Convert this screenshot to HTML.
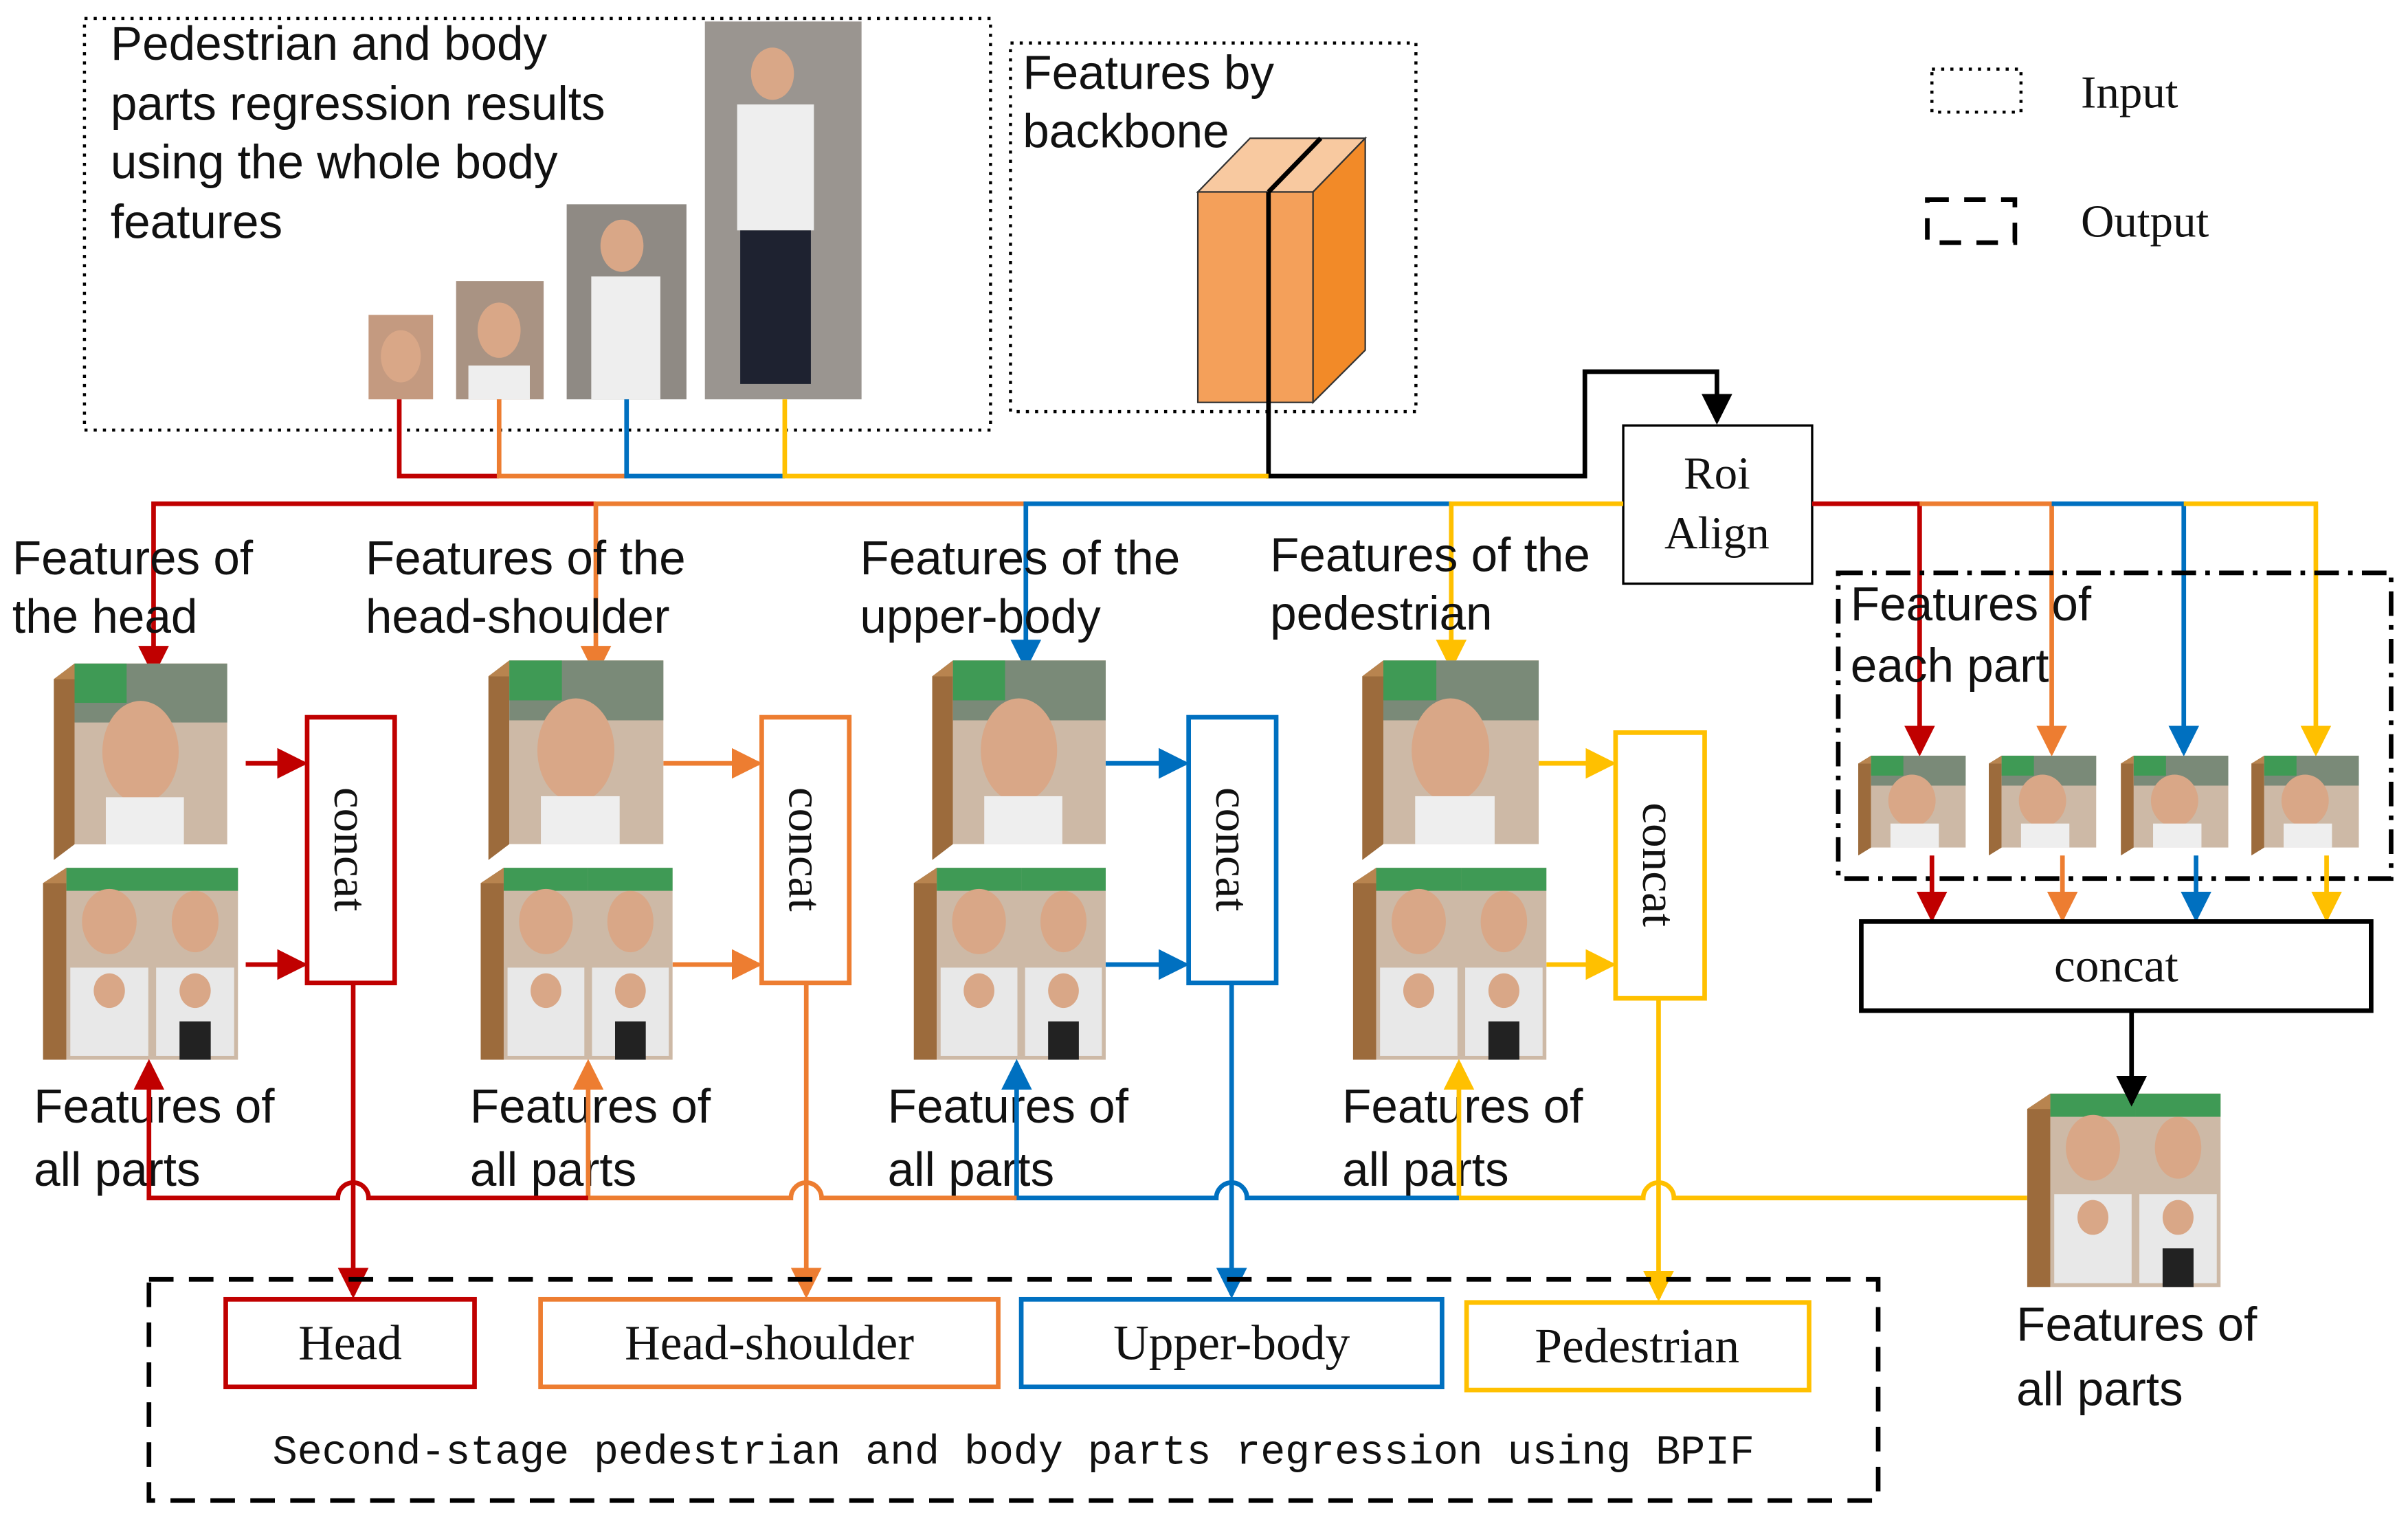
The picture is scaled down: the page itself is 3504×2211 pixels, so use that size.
<!DOCTYPE html>
<html><head><meta charset="utf-8"><style>
html,body{margin:0;padding:0;background:#fff;}
svg{display:block;}
text{font-family:"Liberation Sans","Noto Sans CJK SC",sans-serif;fill:#111;}
.s{font-family:"Liberation Serif","Noto Serif CJK SC",serif;}
.m{font-family:"Liberation Mono",monospace;}
</style></head><body>
<svg width="3504" height="2211" viewBox="0 0 1568 989" preserveAspectRatio="none" xmlns="http://www.w3.org/2000/svg">
<defs>
<marker id="aR" markerWidth="20" markerHeight="20" refX="7" refY="4" orient="auto" markerUnits="userSpaceOnUse" viewBox="0 0 8 8"><path d="M0,0 L8,4 L0,8z" fill="#C00000"/></marker>
<marker id="aO" markerWidth="20" markerHeight="20" refX="7" refY="4" orient="auto" markerUnits="userSpaceOnUse" viewBox="0 0 8 8"><path d="M0,0 L8,4 L0,8z" fill="#ED7D31"/></marker>
<marker id="aB" markerWidth="20" markerHeight="20" refX="7" refY="4" orient="auto" markerUnits="userSpaceOnUse" viewBox="0 0 8 8"><path d="M0,0 L8,4 L0,8z" fill="#0070C0"/></marker>
<marker id="aY" markerWidth="20" markerHeight="20" refX="7" refY="4" orient="auto" markerUnits="userSpaceOnUse" viewBox="0 0 8 8"><path d="M0,0 L8,4 L0,8z" fill="#FFC000"/></marker>
<marker id="aK" markerWidth="20" markerHeight="20" refX="7" refY="4" orient="auto" markerUnits="userSpaceOnUse" viewBox="0 0 8 8"><path d="M0,0 L8,4 L0,8z" fill="#000"/></marker>
<symbol id="cube" viewBox="0 0 100 100" preserveAspectRatio="none">
<polygon points="0,8 12,0 12,92 0,100" fill="#9C6B3C"/>
<polygon points="0,8 12,0 100,0 88,8" fill="#B8844F"/>
<rect x="12" y="0" width="88" height="92" fill="#cdb9a6"/>
<rect x="12" y="0" width="88" height="30" fill="#7a8a78"/>
<ellipse cx="50" cy="45" rx="22" ry="26" fill="#d9a787"/>
<rect x="30" y="68" width="45" height="24" fill="#eeeeee"/>
<rect x="12" y="0" width="30" height="20" fill="#3f9a55"/>
</symbol>
<symbol id="cube4" viewBox="0 0 100 100" preserveAspectRatio="none">
<polygon points="0,8 12,0 12,100 0,100" fill="#9C6B3C"/>
<polygon points="0,8 12,0 100,0 88,8" fill="#B8844F"/>
<rect x="12" y="0" width="88" height="100" fill="#cdb9a6"/>
<rect x="12" y="0" width="44" height="12" fill="#3f9a55"/><rect x="56" y="0" width="44" height="12" fill="#3f9a55"/>
<ellipse cx="34" cy="28" rx="14" ry="17" fill="#d9a787"/><ellipse cx="78" cy="28" rx="12" ry="16" fill="#d9a787"/>
<rect x="14" y="52" width="40" height="46" fill="#e8e8e8"/><rect x="58" y="52" width="40" height="46" fill="#e8e8e8"/>
<ellipse cx="34" cy="64" rx="8" ry="9" fill="#d9a787"/><ellipse cx="78" cy="64" rx="8" ry="9" fill="#d9a787"/>
<rect x="70" y="80" width="16" height="20" fill="#222"/>
</symbol>
</defs>

<rect x="55" y="12" width="590" height="268" fill="none" stroke="#000" stroke-width="2" stroke-dasharray="2,4"/>
<text x="72" y="39" font-size="31">Pedestrian and body</text>
<text x="72" y="78" font-size="31">parts regression results</text>
<text x="72" y="116" font-size="31">using the whole body</text>
<text x="72" y="155" font-size="31">features</text>
<rect x="240" y="205" width="42" height="55" fill="#c49a80"/><ellipse cx="261" cy="232" rx="13" ry="17" fill="#d9a787"/>
<rect x="297" y="183" width="57" height="77" fill="#a99383"/><ellipse cx="325" cy="215" rx="14" ry="18" fill="#d9a787"/><rect x="305" y="238" width="40" height="22" fill="#eee"/>
<rect x="369" y="133" width="78" height="127" fill="#8f8a84"/><ellipse cx="405" cy="160" rx="14" ry="17" fill="#d9a787"/><rect x="385" y="180" width="45" height="80" fill="#eee"/>
<rect x="459" y="14" width="102" height="246" fill="#9a9590"/><ellipse cx="503" cy="48" rx="14" ry="17" fill="#d9a787"/><rect x="480" y="68" width="50" height="82" fill="#eee"/><rect x="482" y="150" width="46" height="100" fill="#1e2230"/>

<rect x="658" y="28" width="264" height="240" fill="none" stroke="#000" stroke-width="2" stroke-dasharray="2,4"/>
<text x="666" y="58" font-size="31">Features by</text>
<text x="666" y="96" font-size="31">backbone</text>
<polygon points="780,125 814,90 889,90 855,125" fill="#F8C9A0" stroke="#333" stroke-width="1"/>
<rect x="780" y="125" width="75" height="137" fill="#F4A05A" stroke="#333" stroke-width="1"/>
<polygon points="855,125 889,90 889,228 855,262" fill="#F28A28" stroke="#333" stroke-width="1"/>
<line x1="826" y1="125" x2="826" y2="262" stroke="#000" stroke-width="3"/>
<line x1="826" y1="125" x2="860" y2="90" stroke="#000" stroke-width="3"/>

<rect x="1258" y="45" width="58" height="28" fill="none" stroke="#000" stroke-width="2" stroke-dasharray="2,4"/>
<text x="1355" y="70" font-size="30" class="s">Input</text>
<rect x="1255" y="130" width="57" height="28" fill="none" stroke="#000" stroke-width="3" stroke-dasharray="14,10"/>
<text x="1355" y="154" font-size="30" class="s">Output</text>

<polyline points="826,262 826,310 1032,310 1032,242 1118,242 1118,274" fill="none" stroke="#000" stroke-width="3" marker-end="url(#aK)"/>
<rect x="1057" y="277" width="123" height="103" fill="#fff" stroke="#000" stroke-width="1.5"/>
<text x="1118" y="318" font-size="30" class="s" text-anchor="middle">Roi</text>
<text x="1118" y="357" font-size="30" class="s" text-anchor="middle">Align</text>

<g fill="none" stroke-width="3">
<polyline points="260,260 260,310 325,310" stroke="#C00000"/>
<polyline points="325,260 325,310 408,310" stroke="#ED7D31"/>
<polyline points="408,260 408,310 511,310" stroke="#0070C0"/>
<polyline points="511,260 511,310 826,310" stroke="#FFC000"/>
<polyline points="388,328 100,328 100,438" stroke="#C00000" marker-end="url(#aR)"/>
<polyline points="668,328 388,328 388,438" stroke="#ED7D31" marker-end="url(#aO)"/>
<polyline points="945,328 668,328 668,434" stroke="#0070C0" marker-end="url(#aB)"/>
<polyline points="1057,328 945,328 945,434" stroke="#FFC000" marker-end="url(#aY)"/>
<polyline points="1180,328 1250,328 1250,490" stroke="#C00000" marker-end="url(#aR)"/>
<polyline points="1250,328 1336,328 1336,490" stroke="#ED7D31" marker-end="url(#aO)"/>
<polyline points="1336,328 1422,328 1422,490" stroke="#0070C0" marker-end="url(#aB)"/>
<polyline points="1422,328 1508,328 1508,490" stroke="#FFC000" marker-end="url(#aY)"/>
</g>

<g font-size="31">
<text x="8" y="374">Features of</text><text x="8" y="412">the head</text>
<text x="238" y="374">Features of the</text><text x="238" y="412">head-shoulder</text>
<text x="560" y="374">Features of the</text><text x="560" y="412">upper-body</text>
<text x="827" y="372">Features of the</text><text x="827" y="410">pedestrian</text>
<text x="22" y="731">Features of</text><text x="22" y="772">all parts</text>
<text x="306" y="731">Features of</text><text x="306" y="772">all parts</text>
<text x="578" y="731">Features of</text><text x="578" y="772">all parts</text>
<text x="874" y="731">Features of</text><text x="874" y="772">all parts</text>
<text x="1205" y="404">Features of</text><text x="1205" y="444">each part</text>
<text x="1313" y="873">Features of</text><text x="1313" y="915">all parts</text>
</g>

<use href="#cube" x="35" y="432" width="113" height="128"/>
<use href="#cube4" x="28" y="565" width="127" height="125"/>
<use href="#cube" x="318" y="430" width="114" height="130"/>
<use href="#cube4" x="313" y="565" width="125" height="125"/>
<use href="#cube" x="607" y="430" width="113" height="130"/>
<use href="#cube4" x="595" y="565" width="125" height="125"/>
<use href="#cube" x="887" y="430" width="115" height="130"/>
<use href="#cube4" x="881" y="565" width="126" height="125"/>
<use href="#cube" x="1210" y="492" width="70" height="65"/>
<use href="#cube" x="1295" y="492" width="70" height="65"/>
<use href="#cube" x="1381" y="492" width="70" height="65"/>
<use href="#cube" x="1466" y="492" width="70" height="65"/>
<use href="#cube4" x="1320" y="712" width="126" height="126"/>

<rect x="1197" y="373" width="360" height="199" fill="none" stroke="#000" stroke-width="3" stroke-dasharray="16,6,3,6"/>

<g fill="none" stroke-width="3">
<line x1="160" y1="497" x2="198" y2="497" stroke="#C00000" marker-end="url(#aR)"/>
<line x1="160" y1="628" x2="198" y2="628" stroke="#C00000" marker-end="url(#aR)"/>
<line x1="432" y1="497" x2="494" y2="497" stroke="#ED7D31" marker-end="url(#aO)"/>
<line x1="438" y1="628" x2="494" y2="628" stroke="#ED7D31" marker-end="url(#aO)"/>
<line x1="720" y1="497" x2="772" y2="497" stroke="#0070C0" marker-end="url(#aB)"/>
<line x1="720" y1="628" x2="772" y2="628" stroke="#0070C0" marker-end="url(#aB)"/>
<line x1="1002" y1="497" x2="1050" y2="497" stroke="#FFC000" marker-end="url(#aY)"/>
<line x1="1007" y1="628" x2="1050" y2="628" stroke="#FFC000" marker-end="url(#aY)"/>
<rect x="200" y="467" width="57" height="173" fill="#fff" stroke="#C00000"/>
<rect x="496" y="467" width="57" height="173" fill="#fff" stroke="#ED7D31"/>
<rect x="774" y="467" width="57" height="173" fill="#fff" stroke="#0070C0"/>
<rect x="1052" y="477" width="58" height="173" fill="#fff" stroke="#FFC000"/>
</g>
<g font-size="31">
<text transform="translate(218,553) rotate(90)" text-anchor="middle" class="s">concat</text>
<text transform="translate(514,553) rotate(90)" text-anchor="middle" class="s">concat</text>
<text transform="translate(792,553) rotate(90)" text-anchor="middle" class="s">concat</text>
<text transform="translate(1070,563) rotate(90)" text-anchor="middle" class="s">concat</text>
</g>

<g fill="none" stroke-width="3">
<line x1="1258" y1="557" x2="1258" y2="598" stroke="#C00000" marker-end="url(#aR)"/>
<line x1="1343" y1="557" x2="1343" y2="598" stroke="#ED7D31" marker-end="url(#aO)"/>
<line x1="1430" y1="557" x2="1430" y2="598" stroke="#0070C0" marker-end="url(#aB)"/>
<line x1="1515" y1="557" x2="1515" y2="598" stroke="#FFC000" marker-end="url(#aY)"/>
<rect x="1212" y="600" width="332" height="58" fill="#fff" stroke="#000"/>
<line x1="1388" y1="658" x2="1388" y2="718" stroke="#000" marker-end="url(#aK)"/>
</g>
<text x="1378" y="639" font-size="31" class="s" text-anchor="middle">concat</text>

<g fill="none" stroke-width="3">
<path d="M1320,780 H1090 A10,10 0 0 0 1070,780 H950" stroke="#FFC000"/>
<path d="M950,780 V692" stroke="#FFC000" marker-end="url(#aY)"/>
<path d="M950,780 H812 A10,10 0 0 0 792,780 H662 V692" stroke="#0070C0" marker-end="url(#aB)"/>
<path d="M662,780 H535 A10,10 0 0 0 515,780 H383 V692" stroke="#ED7D31" marker-end="url(#aO)"/>
<path d="M383,780 H240 A10,10 0 0 0 220,780 H97 V692" stroke="#C00000" marker-end="url(#aR)"/>
<line x1="230" y1="640" x2="230" y2="843" stroke="#C00000" marker-end="url(#aR)"/>
<line x1="525" y1="640" x2="525" y2="843" stroke="#ED7D31" marker-end="url(#aO)"/>
<line x1="802" y1="640" x2="802" y2="843" stroke="#0070C0" marker-end="url(#aB)"/>
<line x1="1080" y1="650" x2="1080" y2="845" stroke="#FFC000" marker-end="url(#aY)"/>
</g>

<rect x="97" y="833" width="1126" height="144" fill="none" stroke="#000" stroke-width="3" stroke-dasharray="16,10"/>
<g fill="#fff" stroke-width="3">
<rect x="147" y="846" width="162" height="57" stroke="#C00000"/>
<rect x="352" y="846" width="298" height="57" stroke="#ED7D31"/>
<rect x="665" y="846" width="274" height="57" stroke="#0070C0"/>
<rect x="955" y="848" width="223" height="57" stroke="#FFC000"/>
</g>
<g font-size="32" text-anchor="middle">
<text x="228" y="885" class="s">Head</text>
<text x="501" y="885" class="s">Head-shoulder</text>
<text x="802" y="885" class="s">Upper-body</text>
<text x="1066" y="887" class="s">Pedestrian</text>
</g>
<text x="660" y="953" font-size="27" class="m" text-anchor="middle" textLength="965">Second-stage pedestrian and body parts regression using BPIF</text>
</svg>
</body></html>
